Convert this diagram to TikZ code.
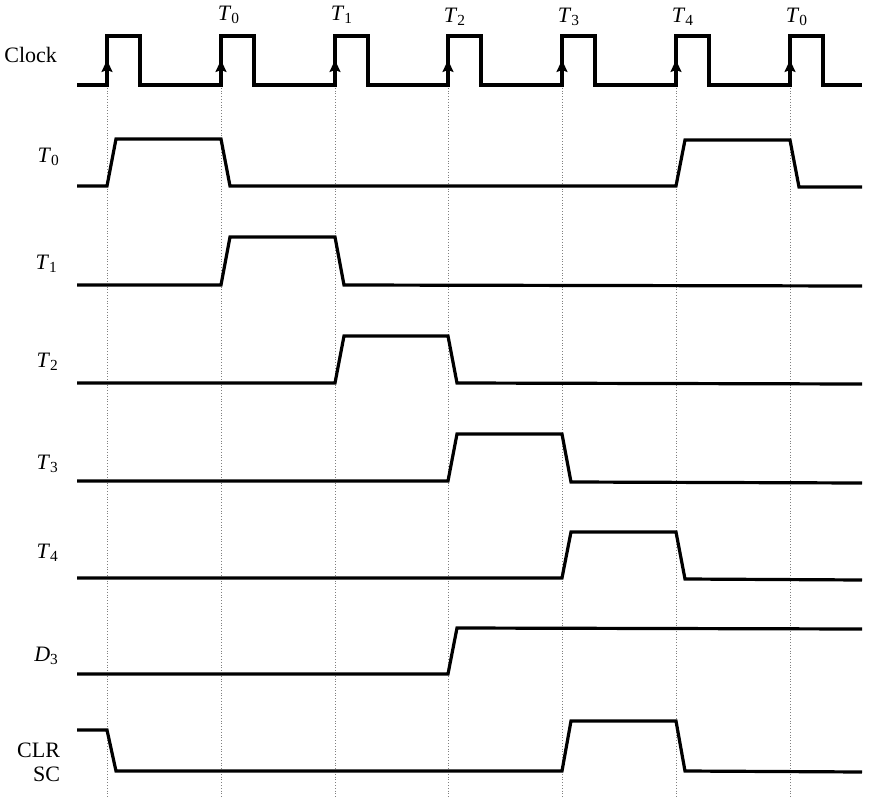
\documentclass[tikz,border=0pt]{standalone}
\usepackage{fontspec}
\setmainfont{Liberation Serif}
\usetikzlibrary{arrows.meta, positioning, calc}

\begin{document}
\begin{tikzpicture}[
        x=0.5pt, y=-0.5pt,
        wave/.style={line width=1.6pt, line join=miter},
        guide/.style={densely dotted, gray, line width=0.4pt},
        clkarrow/.style={-{Stealth[length=6pt, width=5.5pt, inset=1pt]}, line width=1pt},
        siglabel/.style={font=\fontsize{11}{12}\selectfont, align=right, anchor=east},
        toplabel/.style={font=\fontsize{11}{12}\selectfont}
    ]
        \useasboundingbox (0,0) rectangle (869,798);

        % Guide lines at the clock edges
        \foreach \x in {107,221,335,448,562,676,790}
            \draw[guide] (\x,85) -- (\x,798);

        % Clock
        \draw[wave] (77,85) foreach \x in {107,221,335,448,562,676,790} {
            -- (\x,85) -- (\x,36) -- (\x+33,36) -- (\x+33,85) } -- (862,85);
        \foreach \x in {107,221,335,448,562,676,790}
            \draw[clkarrow] (\x,85) -- (\x,60);

        % Timing signals
        \draw[wave] (77,186) -- (107,186) -- (116,139) -- (221,139) -- (230,186) -- (676,186) -- (685,140) -- (790,140) -- (799,187) -- (862,187);
        \draw[wave] (77,285) -- (221,285) -- (230,237) -- (335,237) -- (344,285) -- (862,286);
        \draw[wave] (77,383) -- (335,383) -- (344,336) -- (448,336) -- (457,383) -- (862,384);
        \draw[wave] (77,481) -- (448,481) -- (457,434) -- (562,434) -- (571,482) -- (862,483);
        \draw[wave] (77,578) -- (562,578) -- (571,532) -- (676,532) -- (685,579) -- (862,580);
        \draw[wave] (77,674) -- (448,674) -- (457,628) -- (862,629);
        \draw[wave] (77,730) -- (107,730) -- (116,771) -- (562,771) -- (571,721) -- (676,721) -- (685,771) -- (862,772);

        % Row labels
        \node[siglabel] (lclock) at (64,55) {Clock};
        \node[siglabel] (lt0) at (67,157) {\textit{T}\textsubscript{0}};
        \node[siglabel] (lt1) at (65,264) {\textit{T}\textsubscript{1}};
        \node[siglabel] (lt2) at (66,362) {\textit{T}\textsubscript{2}};
        \node[siglabel] (lt3) at (66,464) {\textit{T}\textsubscript{3}};
        \node[siglabel] (lt4) at (66,553) {\textit{T}\textsubscript{4}};
        \node[siglabel] (ld3) at (66,656) {\textit{D}\textsubscript{3}};
        \node[siglabel] (lclr) at (67,762) {CLR\\SC};

        % Edge labels
        \node[toplabel] (e1) at (229,15) {\textit{T}\textsubscript{0}};
        \node[toplabel] (e2) at (342,15) {\textit{T}\textsubscript{1}};
        \node[toplabel] (e3) at (455,17) {\textit{T}\textsubscript{2}};
        \node[toplabel] (e4) at (569,17) {\textit{T}\textsubscript{3}};
        \node[toplabel] (e5) at (683,17) {\textit{T}\textsubscript{4}};
        \node[toplabel] (e6) at (797,17) {\textit{T}\textsubscript{0}};

    \end{tikzpicture}
\end{document}
